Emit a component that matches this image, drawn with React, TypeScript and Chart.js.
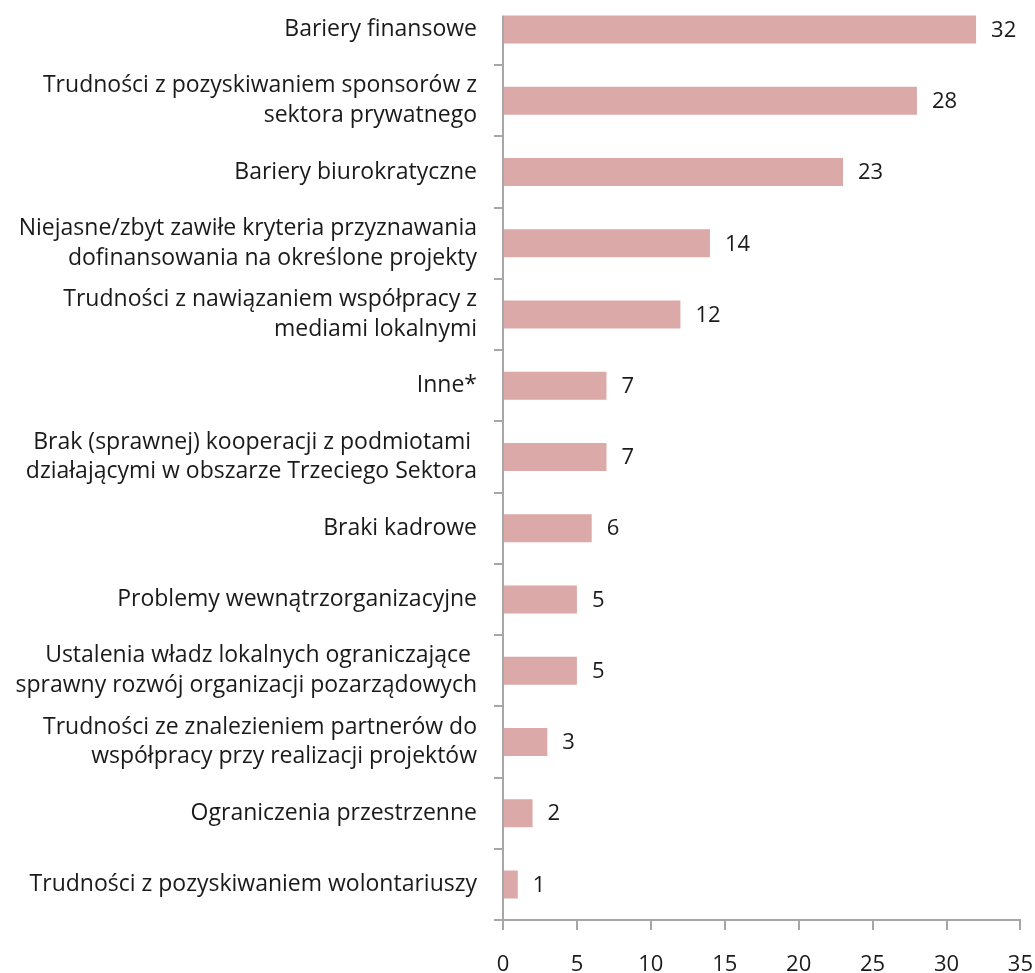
import React, { useEffect, useRef } from "react";
import { Chart, registerables } from "chart.js";

Chart.register(...registerables);

const categories: (string | string[])[] = [
  "Bariery finansowe",
  ["Trudności z pozyskiwaniem sponsorów z", "sektora prywatnego"],
  "Bariery biurokratyczne",
  ["Niejasne/zbyt zawiłe kryteria przyznawania", "dofinansowania na określone projekty"],
  ["Trudności z nawiązaniem współpracy z", "mediami lokalnymi"],
  "Inne*",
  ["Brak (sprawnej) kooperacji z podmiotami ", "działającymi w obszarze Trzeciego Sektora"],
  "Braki kadrowe",
  "Problemy wewnątrzorganizacyjne",
  ["Ustalenia władz lokalnych ograniczające ", "sprawny rozwój organizacji pozarządowych"],
  ["Trudności ze znalezieniem partnerów do", "współpracy przy realizacji projektów"],
  "Ograniczenia przestrzenne",
  "Trudności z pozyskiwaniem wolontariuszy",
];

const values: number[] = [32, 28, 23, 14, 12, 7, 7, 6, 5, 5, 3, 2, 1];

const xMin = 0;
const xMax = 35;
const xStep = 5;

const FONT = "'Open Sans'";
const TEXT = "#1a1a1a";
const AXIS = "#a6a6a6";
const BAR = "#dba9a7";

const CANVAS_W = 1055;
const CANVAS_H = 1011;
const CANVAS_TOP = -38;

export default function App() {
  const ref = useRef<HTMLCanvasElement | null>(null);

  useEffect(() => {
    if (!ref.current) return;

    const valueLabels = {
      id: "valueLabels",
      afterDatasetsDraw(chart: any) {
        const ctx = chart.ctx;
        const meta = chart.getDatasetMeta(0);
        ctx.save();
        ctx.font = `22px ${FONT}`;
        ctx.fillStyle = TEXT;
        ctx.textAlign = "left";
        ctx.textBaseline = "middle";
        meta.data.forEach((bar: any, i: number) => {
          ctx.fillText(String(values[i]), bar.x + 15, bar.y + 1);
        });
        ctx.restore();
      },
    };

    const yAxisLine = {
      id: "yAxisLine",
      afterDatasetsDraw(chart: any) {
        const ctx = chart.ctx;
        const meta = chart.getDatasetMeta(0);
        const first = meta.data[0];
        const top = first.y - first.height / 2;
        const x = chart.chartArea.left;
        ctx.save();
        ctx.strokeStyle = AXIS;
        ctx.lineWidth = 2;
        ctx.beginPath();
        ctx.moveTo(x, top);
        ctx.lineTo(x, chart.chartArea.bottom);
        ctx.stroke();
        ctx.restore();
      },
    };

    const chart = new Chart(ref.current, {
      type: "bar",
      data: {
        labels: categories,
        datasets: [
          {
            data: values,
            backgroundColor: BAR,
            borderWidth: 0,
            categoryPercentage: 1,
            barPercentage: 0.393,
          },
        ],
      },
      plugins: [valueLabels, yAxisLine],
      options: {
        indexAxis: "y",
        animation: false,
        responsive: false,
        devicePixelRatio: 1,
        layout: { padding: { top: 24, right: 15, left: 0, bottom: 0 } },
        plugins: {
          legend: { display: false },
          tooltip: { enabled: false },
        },
        scales: {
          x: {
            min: xMin,
            max: xMax,
            ticks: {
              stepSize: xStep,
              color: TEXT,
              font: { family: FONT, size: 22 },
              padding: 22,
            },
            grid: {
              drawOnChartArea: false,
              drawTicks: true,
              tickLength: 10,
              color: AXIS,
              lineWidth: 2,
            },
            border: { display: true, color: AXIS, width: 2 },
            afterFit(scale: any) {
              scale.height = 53;
            },
          },
          y: {
            ticks: {
              color: TEXT,
              font: { family: FONT, size: 23, lineHeight: 1.3 },
              padding: 17,
              autoSkip: false,
            },
            grid: {
              offset: true,
              drawOnChartArea: false,
              drawTicks: true,
              tickLength: 9,
              color: AXIS,
              lineWidth: 2,
            },
            border: { display: false },
            afterFit(scale: any) {
              scale.width = 503;
            },
          },
        },
      },
    });

    return () => chart.destroy();
  }, []);

  return (
    <div
      style={{
        position: "absolute",
        left: 0,
        top: 0,
        width: 1035,
        height: 973,
        overflow: "hidden",
        background: "#fff",
      }}
    >
      <canvas
        ref={ref}
        width={CANVAS_W}
        height={CANVAS_H}
        style={{ position: "absolute", left: 0, top: CANVAS_TOP, width: CANVAS_W, height: CANVAS_H }}
      />
    </div>
  );
}
